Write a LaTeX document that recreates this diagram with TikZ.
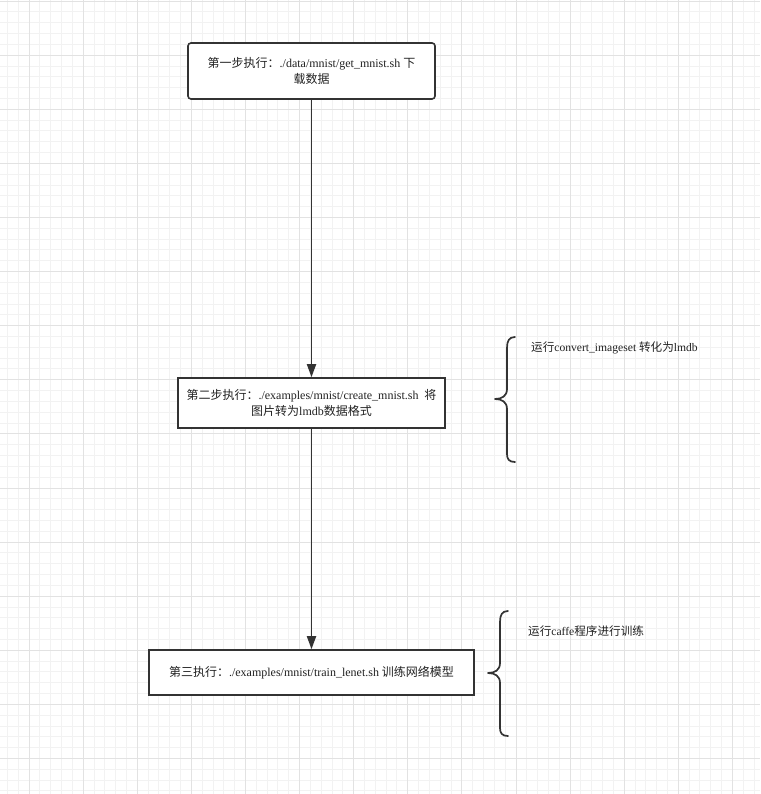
\documentclass[tikz,border=0pt]{standalone}
\usepackage{fontspec}
\setmainfont{Liberation Serif}
\newfontfamily\cjk{Noto Sans CJK SC}
\usetikzlibrary{arrows.meta}
\definecolor{lineC}{HTML}{333333}
\definecolor{txtC}{HTML}{222222}
\definecolor{gridMinor}{HTML}{F2F2F2}
\definecolor{gridMajor}{HTML}{E2E2E2}
\tikzset{
  stepbox/.style={draw=lineC, line width=1.6pt, fill=white, align=center, text=txtC,
    font=\fontsize{12}{16}\selectfont, inner sep=0pt},
  flow/.style={draw=lineC, line width=1.8pt, -{Stealth[length=13pt,width=9pt,inset=0pt]}},
  bracec/.style={draw=lineC, line width=1.7pt, line cap=round, line join=round},
  note/.style={anchor=west, text=txtC, font=\fontsize{11.6}{14}\selectfont, inner sep=0pt},
  minorg/.style={draw=gridMinor, line width=0.8pt},
  majorg/.style={draw=gridMajor, line width=0.8pt}
}
\begin{document}
\begin{tikzpicture}[x=1pt,y=-1pt]
\useasboundingbox (0,0) rectangle (760,794);
\fill[white] (0,0) rectangle (760,794);
% grid
\foreach \i in {-2,...,68} {
  \draw[minorg] ({29+\i*10.82},0) -- ({29+\i*10.82},794);
}
\foreach \i in {0,...,73} {
  \draw[minorg] (0,{1+\i*10.82}) -- (760,{1+\i*10.82});
}
\foreach \i in {0,...,14} {
  \draw[majorg] ({29+\i*54.1},0) -- ({29+\i*54.1},794);
  \draw[majorg] (0,{1+\i*54.1}) -- (760,{1+\i*54.1});
}
% boxes
\node[stepbox, rounded corners=3pt, minimum width=247pt, minimum height=56pt] (s1) at (311.5,71)
  {{\cjk 第一步执行：}./data/mnist/get\_mnist.sh {\cjk 下}\\{\cjk 载数据}};
\node[stepbox, minimum width=267pt, minimum height=50pt] (s2) at (311.5,403)
  {{\cjk 第二步执行：}./examples/mnist/create\_mnist.sh\ \ {\cjk 将}\\{\cjk 图片转为}lmdb{\cjk 数据格式}};
\node[stepbox, minimum width=325pt, minimum height=45pt] (s3) at (311.5,672.5)
  {{\cjk 第三执行：}./examples/mnist/train\_lenet.sh {\cjk 训练网络模型}};
% connectors
\draw[flow] (s1.south) -- (s2.north);
\draw[flow] (s2.south) -- (s3.north);
% braces
\draw[bracec] (515,337) .. controls (509,337) and (507,341) .. (507,348) -- (507,389)
  .. controls (507,396) and (502,399) .. (495,399)
  .. controls (502,399) and (507,402) .. (507,409) -- (507,454)
  .. controls (507,459) and (509,462) .. (515,462);
\draw[bracec] (508,611) .. controls (502,611) and (500,615) .. (500,622) -- (500,663)
  .. controls (500,670) and (495,673) .. (488,673)
  .. controls (495,673) and (500,676) .. (500,683) -- (500,728)
  .. controls (500,733) and (502,736) .. (508,736);
% notes
\node[note] (n1) at (531,348) {{\cjk 运行}convert\_imageset {\cjk 转化为}lmdb};
\node[note] (n2) at (528,631) {{\cjk 运行}caffe{\cjk 程序进行训练}};
\end{tikzpicture}
\end{document}
